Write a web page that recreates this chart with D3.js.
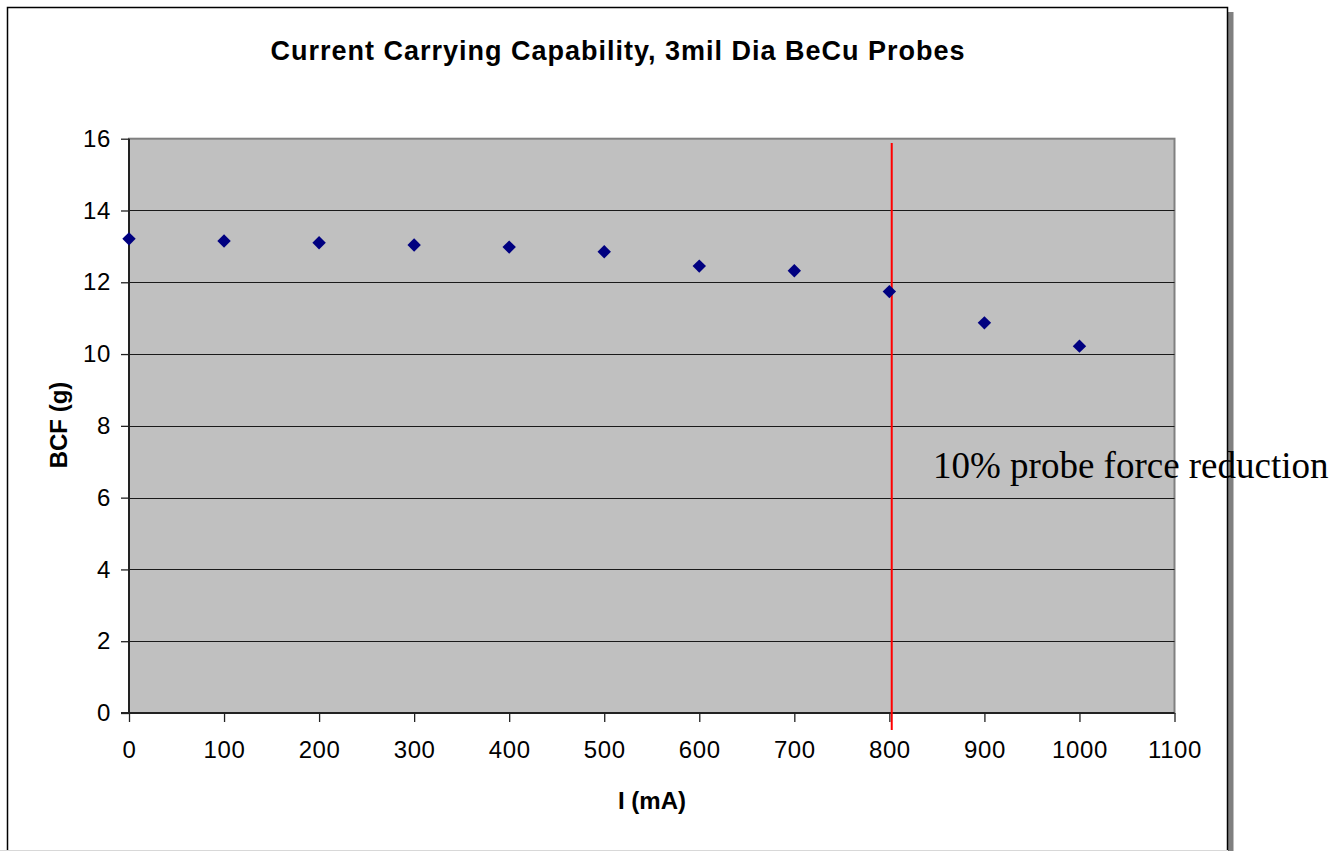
<!DOCTYPE html>
<html>
<head>
<meta charset="utf-8">
<script src="https://cdn.jsdelivr.net/npm/d3@7/dist/d3.min.js"></script>
<style>
  html, body { margin: 0; padding: 0; background: #fff; }
  svg { display: block; }
</style>
</head>
<body>
<svg id="chart" width="1334" height="851"></svg>
<script>
// ---- data ----
const currents = [0, 100, 200, 300, 400, 500, 600, 700, 800, 900, 1000];
const bcf = [13.21, 13.15, 13.10, 13.04, 12.98, 12.85, 12.45, 12.32, 11.74, 10.87, 10.22];
const xTicks = [0, 100, 200, 300, 400, 500, 600, 700, 800, 900, 1000, 1100];
const yTicks = [0, 2, 4, 6, 8, 10, 12, 14, 16];
const limitCurrent = 802.5;
const titleText = "Current Carrying Capability, 3mil Dia BeCu Probes";
const xLabel = "I (mA)";
const yLabel = "BCF (g)";
const annotation = "10% probe force reduction";

const svg = d3.select("#chart");
const W = 1334, H = 851;
const plot = { left: 129, top: 138.7, right: 1174.5, bottom: 713 };

const x = d3.scaleLinear().domain([0, 1100]).range([plot.left, plot.right]);
const y = d3.scaleLinear().domain([0, 16]).range([plot.bottom, plot.top]);

// frame shadow
svg.append("rect").attr("x", 1228).attr("y", 12).attr("width", 5.5).attr("height", H)
  .attr("fill", "#808080");
// frame
svg.append("rect").attr("x", 7.5).attr("y", 7.5).attr("width", 1220).attr("height", H + 20)
  .attr("fill", "#fff").attr("stroke", "#000").attr("stroke-width", 1.5);
// faint bottom line
svg.append("line").attr("x1", 0).attr("x2", 1228).attr("y1", 850.5).attr("y2", 850.5)
  .attr("stroke", "#d8d8d8").attr("stroke-width", 1);

// plot area
svg.append("rect").attr("x", plot.left).attr("y", plot.top)
  .attr("width", plot.right - plot.left).attr("height", plot.bottom - plot.top)
  .attr("fill", "#c0c0c0").attr("stroke", "#808080").attr("stroke-width", 2);

// gridlines
svg.append("g").selectAll("line").data(yTicks.filter(d => d > 0 && d < 16)).join("line")
  .attr("x1", plot.left).attr("x2", plot.right)
  .attr("y1", d => Math.round(y(d)) + 0.5).attr("y2", d => Math.round(y(d)) + 0.5)
  .attr("stroke", "#1a1a1a").attr("stroke-width", 1.2);

// axes
const fontSans = "Arial, 'Liberation Sans', sans-serif";
const yAxis = d3.axisLeft(y).tickValues(yTicks).tickSize(8).tickPadding(10).tickFormat(d3.format("d"));
const gy = svg.append("g").attr("transform", `translate(${plot.left},0)`).call(yAxis);
const xAxis = d3.axisBottom(x).tickValues(xTicks).tickSize(9).tickPadding(19).tickFormat(d3.format("d"));
const gx = svg.append("g").attr("transform", `translate(0,${plot.bottom})`).call(xAxis);
[gx, gy].forEach(g => {
  g.select(".domain").attr("stroke", "#222").attr("stroke-width", 2);
  g.selectAll(".tick line").attr("stroke", "#222").attr("stroke-width", 1.3);
  g.selectAll(".tick text").attr("fill", "#000").style("font-family", fontSans)
    .style("font-size", "24px").style("letter-spacing", "0.6px");
});
gy.select(".domain").attr("d", `M0,${plot.top}V${plot.bottom}`);
gx.select(".domain").attr("d", `M${plot.left - 8},0H${plot.right}`);

// red limit line
svg.append("line").attr("x1", x(limitCurrent)).attr("x2", x(limitCurrent))
  .attr("y1", 143).attr("y2", 730).attr("stroke", "#ff0000").attr("stroke-width", 2);

// points
const diamond = d3.symbol().type(d3.symbolSquare).size(90);
svg.append("g").selectAll("path").data(currents.map((c, i) => [c, bcf[i]])).join("path")
  .attr("d", diamond)
  .attr("transform", d => `translate(${x(d[0])},${y(d[1])}) rotate(45)`)
  .attr("fill", "#000080");

// title
svg.append("text").attr("x", 618).attr("y", 60).attr("text-anchor", "middle")
  .style("font-family", fontSans).style("font-weight", "bold").style("font-size", "27px")
  .style("letter-spacing", "1px")
  .text(titleText);
// x label
svg.append("text").attr("x", 652).attr("y", 809).attr("text-anchor", "middle")
  .style("font-family", fontSans).style("font-weight", "bold").style("font-size", "24px")
  .text(xLabel);
// y label
svg.append("text").attr("transform", "translate(67,425) rotate(-90)").attr("text-anchor", "middle")
  .style("font-family", fontSans).style("font-weight", "bold").style("font-size", "24px")
  .text(yLabel);
// annotation
svg.append("text").attr("x", 933).attr("y", 478)
  .style("font-family", "'Times New Roman', 'Liberation Serif', serif").style("font-size", "37px")
  .text(annotation);
</script>
</body>
</html>
